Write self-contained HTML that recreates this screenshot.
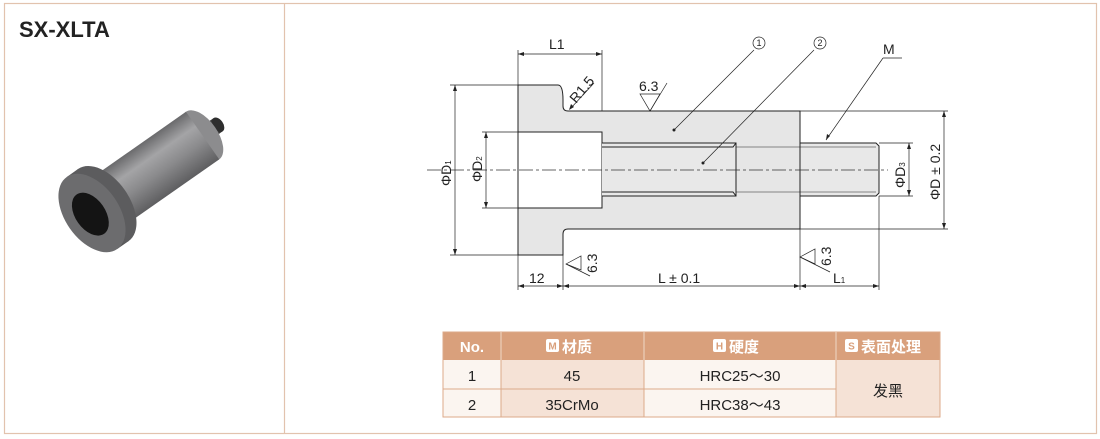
<!DOCTYPE html>
<html><head><meta charset="utf-8"><style>
body{margin:0;background:#fff;}
svg{display:block}
text{font-family:"Liberation Sans","Noto Sans CJK SC",sans-serif;}
</style></head><body>
<svg width="1100" height="439" viewBox="0 0 1100 439" xmlns="http://www.w3.org/2000/svg">
<defs>
<linearGradient id="cyl" x1="0" y1="0" x2="0" y2="1">
<stop offset="0" stop-color="#6a6a6c"/><stop offset="0.3" stop-color="#a4a4a6"/><stop offset="0.6" stop-color="#8a8a8c"/><stop offset="1" stop-color="#5e5e60"/></linearGradient>
<linearGradient id="fc" x1="0" y1="0" x2="0" y2="1">
<stop offset="0" stop-color="#5a5a5c"/><stop offset="0.5" stop-color="#6e6e70"/><stop offset="1" stop-color="#545456"/></linearGradient>
</defs>
<rect x="4.5" y="3.5" width="1092" height="430" fill="none" stroke="#e2c3ae" stroke-width="1.2"/>
<line x1="284.5" y1="3.5" x2="284.5" y2="433.5" stroke="#e2c3ae" stroke-width="1.2"/>
<text x="19" y="37" font-size="22" font-weight="bold" fill="#222">SX-XLTA</text>

<g transform="translate(92,213) rotate(-35)">
<rect x="130" y="-8" width="24" height="16" fill="#3a3a3a"/>
<ellipse cx="154" cy="0" rx="5" ry="8" fill="#2e2e2e"/>
<ellipse cx="135" cy="0" rx="15" ry="29" fill="#8c8c8e"/>
<rect x="14" y="-29" width="121" height="58" fill="url(#cyl)"/>
<rect x="0" y="-44" width="14" height="88" fill="url(#fc)"/>
<ellipse cx="14" cy="0" rx="26" ry="44" fill="#5c5c5e"/>
<ellipse cx="0" cy="0" rx="27" ry="44" fill="#6c6c6e"/>
<ellipse cx="-2" cy="0" rx="15" ry="24" fill="#141414"/>
</g>

<g stroke="#222" stroke-width="1" fill="none">
<path d="M518,85 H558 Q563,85 563,100 V106 Q563,111 568,111 H800 V229 H568 Q563,229 563,234 V255 H518 Z" fill="#e6e6e6"/>
<rect x="518" y="132" width="84" height="76" fill="#fff"/>
<path d="M602,143 H736 V196 H602" fill="#e8e8e8"/>
<path d="M602,147 H733 L736,143 M602,192 H733 L736,196"/>
<path d="M800,143 H876 L879,146 V193 L876,196 H800" fill="#e8e8e8"/>
<line x1="736" y1="143" x2="736" y2="196"/>
<line x1="800" y1="143" x2="800" y2="196"/>
<path d="M736,147 H876 M736,192 H876" stroke-width="0.6"/>
</g>
<line x1="427" y1="170" x2="888" y2="170" stroke="#333" stroke-width="0.8" stroke-dasharray="14,3,3,3"/>
<g stroke="#222" stroke-width="0.7" fill="none">
<line x1="518" y1="50" x2="518" y2="290"/>
<line x1="602" y1="50" x2="602" y2="111"/>
<line x1="563" y1="255" x2="563" y2="290"/>
<line x1="800" y1="229" x2="800" y2="290"/>
<line x1="879" y1="196" x2="879" y2="290"/>
<line x1="450" y1="85" x2="518" y2="85"/>
<line x1="450" y1="255" x2="518" y2="255"/>
<line x1="482" y1="132" x2="518" y2="132"/>
<line x1="482" y1="208" x2="518" y2="208"/>
<line x1="800" y1="111" x2="948" y2="111"/>
<line x1="800" y1="229" x2="948" y2="229"/>
<line x1="879" y1="143" x2="913" y2="143"/>
<line x1="879" y1="196" x2="913" y2="196"/>
<line x1="518" y1="54" x2="602" y2="54"/>
<line x1="455" y1="85" x2="455" y2="255"/>
<line x1="486" y1="132" x2="486" y2="208"/>
<line x1="944" y1="111" x2="944" y2="229"/>
<line x1="909" y1="143" x2="909" y2="196"/>
<line x1="518" y1="286" x2="879" y2="286"/>
<line x1="571" y1="108" x2="594" y2="83"/>
<line x1="674" y1="130" x2="754" y2="50"/>
<line x1="703" y1="163" x2="814" y2="50"/>
<line x1="826" y1="140" x2="883" y2="58"/>
<line x1="883" y1="58" x2="902" y2="58"/>
<path d="M640,94 L650,111 L660,94 Z"/><line x1="650" y1="111" x2="667" y2="83"/>
<path d="M566,264 L581,256 L581,270 Z"/><line x1="566" y1="264" x2="590" y2="276"/>
<path d="M800,257 L815,249 L815,264 Z"/><line x1="800" y1="257" x2="830" y2="272"/>
</g>
<g fill="#222">
<path d="M518,54 l6,-2 v4z M602,54 l-6,-2 v4z"/>
<path d="M455,85 l-2,6 h4z M455,255 l-2,-6 h4z"/>
<path d="M486,132 l-2,6 h4z M486,208 l-2,-6 h4z"/>
<path d="M944,111 l-2,6 h4z M944,229 l-2,-6 h4z"/>
<path d="M909,143 l-2,6 h4z M909,196 l-2,-6 h4z"/>
<path d="M518,286 l6,-2 v4z M563,286 l-6,-2 v4z M563,286 l6,-2 v4z M800,286 l-6,-2 v4z M800,286 l6,-2 v4z M879,286 l-6,-2 v4z"/>
<path d="M569,110 l2,-6 l3,3z"/>
<path d="M826,140 l1,-6 l3,2z"/>
<circle cx="674" cy="130" r="1.5"/><circle cx="703" cy="163" r="1.5"/>
</g>
<g font-size="14" fill="#222">
<text x="549" y="49">L1</text>
<text x="639" y="91">6.3</text>
<text x="529" y="283">12</text>
<text x="658" y="283">L ± 0.1</text>
<text x="833" y="283">L<tspan font-size="8">1</tspan></text>
<text x="883" y="54">M</text>
<text transform="translate(576,104) rotate(-50)">R1.5</text>
<text transform="translate(597,273) rotate(-90)">6.3</text>
<text transform="translate(831,266) rotate(-90)">6.3</text>
<text transform="translate(451,186) rotate(-90)">ΦD<tspan font-size="8">1</tspan></text>
<text transform="translate(482,182) rotate(-90)">ΦD<tspan font-size="8">2</tspan></text>
<text transform="translate(905,188) rotate(-90)">ΦD<tspan font-size="8">3</tspan></text>
<text transform="translate(940,200) rotate(-90)">ΦD ± 0.2</text>
</g>
<g fill="none" stroke="#222" stroke-width="0.7"><circle cx="759" cy="43" r="6"/><circle cx="820" cy="43" r="6"/></g>
<g font-size="9" fill="#222" text-anchor="middle"><text x="759" y="46">1</text><text x="820" y="46">2</text></g>

<rect x="443" y="332" width="497" height="28" fill="#d9a07c"/>
<rect x="443" y="360" width="58" height="57" fill="#fbf5f0"/>
<rect x="501" y="360" width="143" height="57" fill="#f5e2d6"/>
<rect x="644" y="360" width="192" height="57" fill="#fbf5f0"/>
<rect x="836" y="360" width="104" height="57" fill="#f5e2d6"/>
<g stroke="#dcaa8a" stroke-width="1">
<rect x="443" y="332" width="497" height="85" fill="none"/>
<line x1="443" y1="389" x2="836" y2="389"/>
<line x1="501" y1="360" x2="501" y2="417"/><line x1="644" y1="360" x2="644" y2="417"/><line x1="836" y1="360" x2="836" y2="417"/>
</g>
<g stroke="#f0d8c6" stroke-width="1"><line x1="501" y1="332" x2="501" y2="360"/><line x1="644" y1="332" x2="644" y2="360"/><line x1="836" y1="332" x2="836" y2="360"/></g>
<g fill="#fff"><rect x="546" y="339" width="13" height="13" rx="2"/><rect x="713" y="339" width="13" height="13" rx="2"/><rect x="845" y="339" width="13" height="13" rx="2"/></g>
<g font-size="10" font-weight="bold" fill="#d9a07c" text-anchor="middle"><text x="552.5" y="349.5">M</text><text x="719.5" y="349.5">H</text><text x="851.5" y="349.5">S</text></g>
<g font-size="15" font-weight="bold" fill="#fff">
<text x="472" y="352" text-anchor="middle">No.</text>
<text x="562" y="352">材质</text>
<text x="729" y="352">硬度</text>
<text x="861" y="352">表面处理</text>
</g>
<g font-size="15" fill="#222" text-anchor="middle">
<text x="472" y="381">1</text><text x="572" y="381">45</text><text x="740" y="381">HRC25～30</text>
<text x="472" y="410">2</text><text x="572" y="410">35CrMo</text><text x="740" y="410">HRC38～43</text>
<text x="888" y="396">发黑</text>
</g>
</svg>
</body></html>
